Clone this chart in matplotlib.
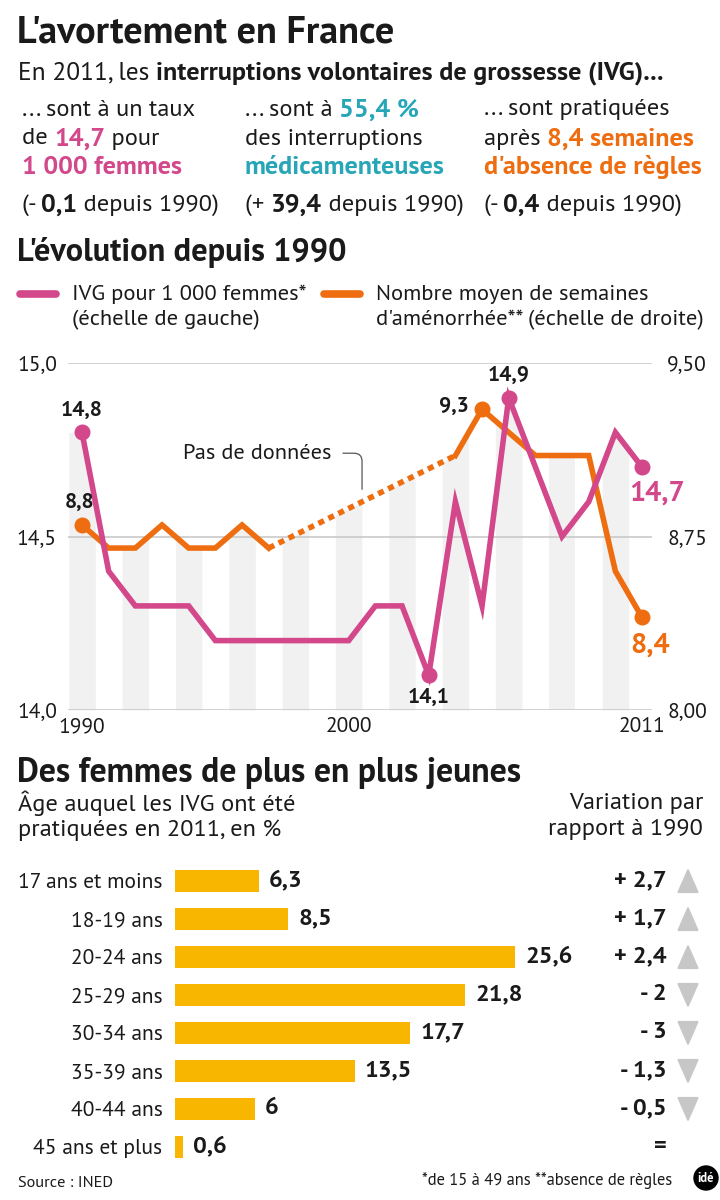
import numpy as np
import matplotlib
matplotlib.use("Agg")
import matplotlib.pyplot as plt
import matplotlib.transforms as mtransforms
from matplotlib.patches import Polygon, Ellipse
from matplotlib import font_manager

installed = {f.name for f in font_manager.fontManager.ttflist}
main_font = next((f for f in ["PT Sans", "Source Sans 3", "Fira Sans", "Open Sans"] if f in installed), "DejaVu Sans")
plt.rcParams["font.family"] = [main_font, "DejaVu Sans"]

PINK = "#d3478b"
ORANGE = "#ee6d10"
TEAL = "#27a6b7"
YELLOW = "#f8b600"
TRI = "#c7c7c7"
BAND = "#f1f1f1"
GRID = "#c9c9c9"
TXT = "#1a1a1a"

# IVG rate per 1000 women (left) and mean weeks of amenorrhea (right)
years = list(range(1990, 2012))
ivg_rate = [14.8, 14.4, 14.3, 14.3, 14.3, 14.2, 14.2, 14.2, 14.2, 14.2, 14.2,
            14.3, 14.3, 14.1, 14.6, 14.3, 14.9, 14.7, 14.5, 14.6, 14.8, 14.7]
weeks = [8.8, 8.7, 8.7, 8.8, 8.7, 8.7, 8.8, 8.7, np.nan, np.nan, np.nan,
         np.nan, np.nan, np.nan, 9.1, 9.3, 9.2, 9.1, 9.1, 9.1, 8.6, 8.4]

age_groups = ["17 ans et moins", "18-19 ans", "20-24 ans", "25-29 ans",
              "30-34 ans", "35-39 ans", "40-44 ans", "45 ans et plus"]
age_share = [6.3, 8.5, 25.6, 21.8, 17.7, 13.5, 6, 0.6]
age_change = [2.7, 1.7, 2.4, -2, -3, -1.3, -0.5, 0]

BODY = 17.6
W, H = 720, 1200
fig = plt.figure(figsize=(7.2, 12), dpi=100)
renderer = fig.canvas.get_renderer()


def fx(x):
    return x / W


def fy(y):
    return 1 - y / H


def fr(v):
    return f"{v:g}".replace(".", ",")


def runs(x, y, parts, size=BODY, bold_scale=1.07):
    # one line made of several styled pieces placed side by side
    for text, bold, color in parts:
        t = fig.text(fx(x), fy(y), text, fontsize=size * bold_scale if bold else size, color=color,
                     fontweight="bold" if bold else "normal", va="center", ha="left")
        x += t.get_window_extent(renderer).width


# header
fig.text(fx(17), fy(33), "L'avortement en France", fontsize=27.5, fontweight="bold", color=TXT, va="center")
runs(18, 73, [("En 2011, les ", False, TXT),
              ("interruptions volontaires de grossesse (IVG)...", True, TXT)], size=18.3, bold_scale=1.03)

cols = [22, 245, 484]
col_lines = [
    [[("... sont à un taux", False, TXT)],
     [("de ", False, TXT), ("14,7", True, PINK), (" pour", False, TXT)],
     [("1 000 femmes", True, PINK)],
     [("(- ", False, TXT), ("0,1", True, TXT), (" depuis 1990)", False, TXT)]],
    [[("... sont à ", False, TXT), ("55,4 %", True, TEAL)],
     [("des interruptions", False, TXT)],
     [("médicamenteuses", True, TEAL)],
     [("(+ ", False, TXT), ("39,4", True, TXT), (" depuis 1990)", False, TXT)]],
    [[("... sont pratiquées", False, TXT)],
     [("après ", False, TXT), ("8,4 semaines", True, ORANGE)],
     [("d'absence de règles", True, ORANGE)],
     [("(- ", False, TXT), ("0,4", True, TXT), (" depuis 1990)", False, TXT)]],
]
for cx, lines in zip(cols, col_lines):
    for ly, parts in zip([110, 139, 167, 205], lines):
        runs(cx, ly, parts)

# line chart section
fig.text(fx(17), fy(252), "L'évolution depuis 1990", fontsize=23.3, fontweight="bold", color=TXT, va="center")
fig.add_artist(plt.Line2D([fx(20), fx(56)], [fy(294), fy(294)], color=PINK, lw=5.5, solid_capstyle="round"))
fig.add_artist(plt.Line2D([fx(324), fx(360)], [fy(294), fy(294)], color=ORANGE, lw=5.5, solid_capstyle="round"))
fig.text(fx(72), fy(294), "IVG pour 1 000 femmes*", fontsize=16.2, color=TXT, va="center")
fig.text(fx(72), fy(320), "(échelle de gauche)", fontsize=16.2, color=TXT, va="center")
fig.text(fx(376), fy(294), "Nombre moyen de semaines", fontsize=16.2, color=TXT, va="center")
fig.text(fx(376), fy(320), "d'aménorrhée** (échelle de droite)", fontsize=16.2, color=TXT, va="center")

px_per_year = 26.67
x0 = 1990 - (82 - 68) / px_per_year
x1 = 1990 + (652 - 82) / px_per_year

axw = fig.add_axes([fx(68), fy(710), (652 - 68) / W, 347 / H])   # weeks, right scale
axw.set_xlim(x0, x1)
axw.set_ylim(8, 9.5)
axi = axw.twinx()                                                 # rate, left scale
axi.set_ylim(14, 15)
axw.yaxis.tick_right()
axi.yaxis.tick_left()

for a in (axw, axi):
    for s in a.spines.values():
        s.set_visible(False)
    a.tick_params(length=0, labelsize=15.5, colors=TXT)
axi.set_yticks([14, 14.5, 15], ["14,0", "14,5", "15,0"])
axw.set_yticks([8, 8.75, 9.5], ["8,00", "8,75", "9,50"])
axi.tick_params(axis="y", pad=8)
axw.tick_params(axis="y", pad=11)
axw.set_xticks([1990, 2000, 2011], ["1990", "2000", "2011"])
axw.tick_params(axis="x", pad=5)
axw.yaxis.grid(True, color=GRID, lw=1.2)
axw.set_axisbelow(True)

# light stripes under the upper envelope of both curves (drawn in the weeks axes)
yr = np.array(years, dtype=float)
wk = np.array(weeks)
ok = ~np.isnan(wk)
iv_disp = axi.transData.transform(np.c_[yr, ivg_rate])
iv_right = axw.transData.inverted().transform(iv_disp)[:, 1]
xs = np.linspace(x0, 2010.5, 3000)
env = np.maximum(np.interp(xs, yr, iv_right), np.interp(xs, yr[ok], wk[ok]))
for even in range(1990, 2011, 2):
    m = (xs >= even - 0.5) & (xs <= even + 0.5)
    axw.fill_between(xs[m], 8, env[m], color=BAND, lw=0, zorder=0)

# weeks line: solid parts + dotted across the missing years
first_gap = int(np.argmax(np.isnan(wk)))
last_gap = len(wk) - 1 - int(np.argmax(np.isnan(wk[::-1])))
axw.plot(yr[:first_gap], wk[:first_gap], color=ORANGE, lw=4, solid_joinstyle="miter", zorder=3)
axw.plot(yr[last_gap + 1:], wk[last_gap + 1:], color=ORANGE, lw=4, solid_joinstyle="miter", zorder=3)
axw.plot([yr[first_gap - 1], yr[last_gap + 1]], [wk[first_gap - 1], wk[last_gap + 1]],
         color=ORANGE, lw=4, ls=(0, (1.1, 0.9)), dash_capstyle="butt", zorder=3)
wk_marks = [0, 15, 21]
axw.plot(yr[wk_marks], wk[wk_marks], "o", color=ORANGE, ms=10.5, zorder=4)

axi.plot(yr, ivg_rate, color=PINK, lw=4, solid_joinstyle="miter", zorder=3)
iv_marks = [0, 13, 16, 21]
axi.plot(yr[iv_marks], np.array(ivg_rate)[iv_marks], "o", color=PINK, ms=10.5, zorder=4)

lab = dict(fontsize=15.5, fontweight="bold", color=TXT, textcoords="offset points",
           ha="center", va="center", annotation_clip=False, zorder=6)
axi.annotate(fr(ivg_rate[0]), (yr[0], ivg_rate[0]), xytext=(0, 16), **lab)
axi.annotate(fr(ivg_rate[13]), (yr[13], ivg_rate[13]), xytext=(0, -16), **lab)
axi.annotate(fr(ivg_rate[16]), (yr[16], ivg_rate[16]), xytext=(0, 16), **lab)
axi.annotate(fr(wk[0]), (yr[0], wk[0]), xycoords=axw.transData, xytext=(-2, 16), **lab)
axi.annotate(fr(wk[15]), (yr[15], wk[15]), xycoords=axw.transData, xytext=(-20, 2), **lab)
big = dict(lab, fontsize=20.5)
big.pop("color")
axi.annotate(fr(ivg_rate[21]), (yr[21], ivg_rate[21]), xytext=(11, -19), color=PINK, **big)
axi.annotate(fr(wk[21]), (yr[21], wk[21]), xycoords=axw.transData, xytext=(6, -20), color=ORANGE, **big)

gap_x = 2000.5
gap_y = np.interp(gap_x, [yr[first_gap - 1], yr[last_gap + 1]], [wk[first_gap - 1], wk[last_gap + 1]])
axw.annotate("Pas de données", (gap_x, gap_y), xytext=(1993.8, 9.11), fontsize=16, color=TXT,
             ha="left", va="center", zorder=5,
             arrowprops=dict(arrowstyle="-", color="#555555", lw=0.9, shrinkA=6, shrinkB=9,
                             connectionstyle="angle,angleA=0,angleB=90,rad=8"))

# bar chart section
fig.text(fx(17), fy(773), "Des femmes de plus en plus jeunes", fontsize=24.3, fontweight="bold", color=TXT, va="center")
fig.text(fx(18), fy(803), "Âge auquel les IVG ont été", fontsize=BODY, color=TXT, va="center")
fig.text(fx(18), fy(830), "pratiquées en 2011, en %", fontsize=BODY, color=TXT, va="center")
fig.text(fx(703), fy(803), "Variation par", fontsize=BODY, color=TXT, va="center", ha="right")
fig.text(fx(703), fy(830), "rapport à 1990", fontsize=BODY, color=TXT, va="center", ha="right")

bpx = 13.3
axb = fig.add_axes([fx(175), fy(1166), (715 - 175) / W, 304 / H])
axb.set_xlim(0, (715 - 175) / bpx)
axb.set_ylim(len(age_groups) - 0.5, -0.5)
pos = np.arange(len(age_groups))
axb.barh(pos, age_share, height=0.58, color=YELLOW)
axb.set_yticks(pos, age_groups)
axb.tick_params(length=0, labelsize=15.5, colors=TXT, pad=9)
axb.set_xticks([])
for s in axb.spines.values():
    s.set_visible(False)
for i, v in enumerate(age_share):
    axb.text(v + 0.75, i, fr(v), fontsize=17.5, fontweight="bold", color=TXT, va="center")

bt = mtransforms.blended_transform_factory(fig.transFigure, axb.transData)
for i, v in enumerate(age_change):
    if v > 0:
        s = "+ " + fr(v)
    elif v < 0:
        s = "- " + fr(-v)
    else:
        s = "="
    axb.text(fx(667), i, s, transform=bt, fontsize=17.5, fontweight="bold", color=TXT,
             va="center", ha="right")
    if v != 0:
        tip = -0.3 if v > 0 else 0.3
        tri = Polygon([[fx(678), i - tip], [fx(698), i - tip], [fx(688), i + tip]],
                      closed=True, transform=bt, color=TRI, clip_on=False)
        axb.add_patch(tri)

# footer
fig.text(fx(18), fy(1183), "Source : INED", fontsize=11.8, color=TXT, va="center")
fig.text(fx(672), fy(1181), "*de 15 à 49 ans **absence de règles", fontsize=11.9, color=TXT,
         va="center", ha="right")
fig.add_artist(Ellipse((fx(706), fy(1178)), 24 / W, 24 / H, transform=fig.transFigure, color="black"))
fig.text(fx(706), fy(1178), "idé", fontsize=9, fontweight="bold", color="white", ha="center", va="center")

fig.savefig("out.png", dpi=100)
